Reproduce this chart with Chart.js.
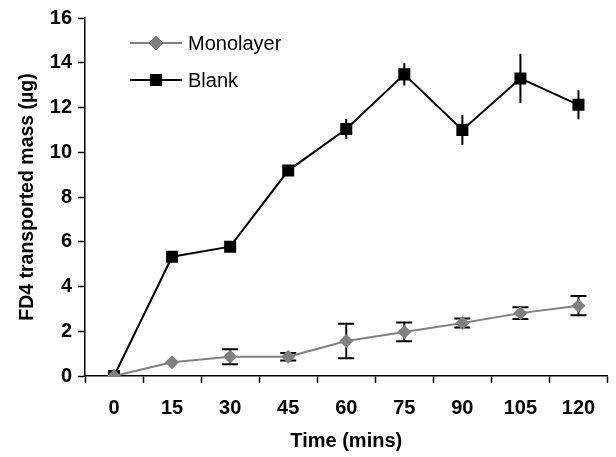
<!DOCTYPE html>
<html>
<head>
<meta charset="utf-8">
<script src="https://cdn.jsdelivr.net/npm/chart.js@4.4.1/dist/chart.umd.min.js"></script>
<style>
  html, body { margin: 0; padding: 0; background: #fff; }
  #wrap { width: 616px; height: 457px; }
</style>
</head>
<body>
<div id="wrap"><canvas id="fd4Canvas" width="616" height="457"></canvas></div>
<script>
// FD4 transport over time, monolayer vs blank insert
const timeLabels = ['0', '15', '30', '45', '60', '75', '90', '105', '120'];
const monolayerMass = [0, 0.61, 0.86, 0.86, 1.56, 1.97, 2.37, 2.81, 3.14];
const monolayerErr = [0, 0, 0.34, 0.17, 0.77, 0.42, 0.2, 0.26, 0.43];
const blankMass = [0, 5.33, 5.78, 9.18, 11.04, 13.48, 11.0, 13.3, 12.12];
const blankErr = [0, 0, 0, 0.12, 0.45, 0.5, 0.67, 1.1, 0.65];
const yMin = 0, yMax = 16, yStep = 2;

const FONT = 'Arial, "Liberation Sans", sans-serif';
const GREY = '#808080';

// vertical error bars, drawn under the markers
const errorBars = {
  id: 'errorBars',
  beforeDatasetsDraw(chart) {
    const { ctx, scales: { x, y } } = chart;
    ctx.save();
    ctx.strokeStyle = '#000';
    ctx.lineWidth = 2;
    chart.data.datasets.forEach((ds) => {
      ds.data.forEach((v, i) => {
        const e = ds.errors[i];
        if (!e) return;
        const px = x.getPixelForValue(i);
        const top = y.getPixelForValue(v + e);
        const bot = y.getPixelForValue(v - e);
        ctx.beginPath();
        ctx.moveTo(px, top);
        ctx.lineTo(px, bot);
        if (ds.capWidth) {
          ctx.moveTo(px - ds.capWidth, top);
          ctx.lineTo(px + ds.capWidth, top);
          ctx.moveTo(px - ds.capWidth, bot);
          ctx.lineTo(px + ds.capWidth, bot);
        }
        ctx.stroke();
      });
    });
    ctx.restore();
  },
};

// legend in the upper-left corner of the plot
const insetLegend = {
  id: 'insetLegend',
  afterDraw(chart) {
    const { ctx } = chart;
    const rows = [
      { ds: chart.data.datasets[0], y: 43 },
      { ds: chart.data.datasets[1], y: 80 },
    ];
    ctx.save();
    rows.forEach(({ ds, y }) => {
      ctx.strokeStyle = ds.borderColor;
      ctx.lineWidth = 2;
      ctx.beginPath();
      ctx.moveTo(130, y);
      ctx.lineTo(182, y);
      ctx.stroke();
      Chart.helpers.drawPoint(ctx, {
        pointStyle: ds.pointStyle,
        radius: ds.pointRadius,
        rotation: 0,
        borderWidth: 0,
      }, 156, y);
      ctx.fillStyle = ds.pointBackgroundColor;
      ctx.fill();
      ctx.fillStyle = '#000';
      ctx.font = '20px ' + FONT;
      ctx.textBaseline = 'middle';
      ctx.textAlign = 'left';
      ctx.fillText(ds.label, 188, y + 1);
    });
    ctx.restore();
  },
};

new Chart(document.getElementById('fd4Canvas'), {
  type: 'line',
  data: {
    labels: timeLabels,
    datasets: [
      {
        label: 'Monolayer',
        data: monolayerMass,
        errors: monolayerErr,
        capWidth: 8,
        borderColor: GREY,
        borderWidth: 2,
        pointStyle: 'rectRot',
        pointRadius: 7,
        pointBackgroundColor: GREY,
        pointBorderWidth: 0,
        tension: 0,
      },
      {
        label: 'Blank',
        data: blankMass,
        errors: blankErr,
        capWidth: 0,
        borderColor: '#000',
        borderWidth: 2,
        pointStyle: 'rect',
        pointRadius: 8.5,
        pointBackgroundColor: '#000',
        pointBorderWidth: 0,
        tension: 0,
      },
    ],
  },
  options: {
    responsive: false,
    animation: false,
    layout: { padding: { left: 0, top: 16, right: 4, bottom: 0 } },
    plugins: {
      legend: { display: false },
      tooltip: { enabled: false },
    },
    scales: {
      x: {
        type: 'category',
        offset: true,
        afterFit: (s) => { s.height = 81; },
        grid: {
          display: true,
          drawOnChartArea: false,
          drawTicks: true,
          tickLength: 7,
          tickWidth: 1.5,
          tickColor: '#000',
          offset: true,
        },
        border: { display: true, color: '#000', width: 1.5 },
        ticks: {
          color: '#000',
          font: { family: FONT, size: 20, weight: 'bold' },
          padding: 13,
          maxRotation: 0,
        },
        title: {
          display: true,
          text: 'Time (mins)',
          color: '#000',
          font: { family: FONT, size: 20, weight: 'bold' },
          padding: { top: 0, bottom: 4 },
        },
      },
      y: {
        min: yMin,
        max: yMax,
        afterFit: (s) => { s.width = 85; },
        grid: {
          display: true,
          drawOnChartArea: false,
          drawTicks: true,
          tickLength: 7,
          tickWidth: 1.5,
          tickColor: '#000',
        },
        border: { display: true, color: '#000', width: 1.5 },
        ticks: {
          stepSize: yStep,
          color: '#000',
          font: { family: FONT, size: 20, weight: 'bold' },
          padding: 6,
        },
        title: {
          display: true,
          text: 'FD4 transported mass (µg)',
          color: '#000',
          font: { family: FONT, size: 19.5, weight: 'bold' },
          padding: { top: 16, bottom: 0 },
        },
      },
    },
  },
  plugins: [errorBars, insetLegend],
});
</script>
</body>
</html>
